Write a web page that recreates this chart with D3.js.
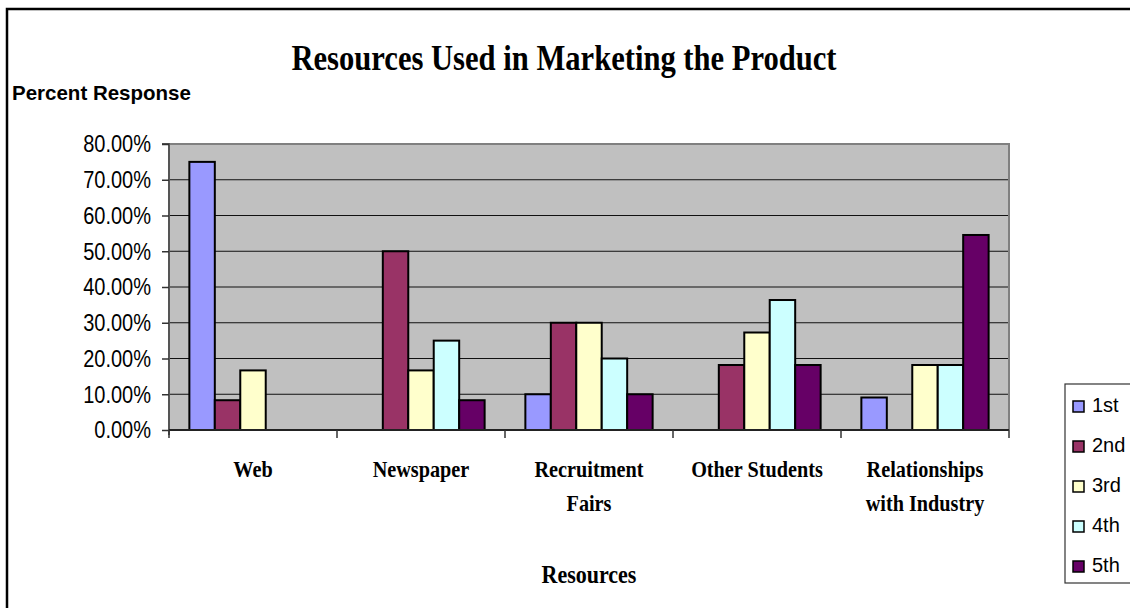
<!DOCTYPE html>
<html>
<head>
<meta charset="utf-8">
<script src="https://cdn.jsdelivr.net/npm/d3@7"></script>
<style>
  html, body { margin: 0; padding: 0; background: #fff; }
  svg { display: block; }
</style>
</head>
<body>
<svg id="chart" width="1130" height="608"></svg>
<script>
// Categories (line breaks mark where the axis label wraps)
const categories = ["Web", "Newspaper", "Recruitment\nFairs", "Other Students", "Relationships\nwith Industry"];

// Ranking series
const seriesNames = ["1st", "2nd", "3rd", "4th", "5th"];
const first  = [0.75,   0,      0.10, 0,      0.0909];
const second = [0.0833, 0.50,   0.30, 0.1818, 0];
const third  = [0.1667, 0.1667, 0.30, 0.2727, 0.1818];
const fourth = [0,      0.25,   0.20, 0.3636, 0.1818];
const fifth  = [0,      0.0833, 0.10, 0.1818, 0.5455];
const seriesValues = [first, second, third, fourth, fifth];

const seriesColors = ["#9999FF", "#993366", "#FFFFCC", "#CCFFFF", "#660066"];
const yTicks = [0, 0.1, 0.2, 0.3, 0.4, 0.5, 0.6, 0.7, 0.8];

const svg = d3.select("#chart");
const plot = { left: 169, right: 1009, top: 144, bottom: 430 };

// Outer chart border
svg.append("rect")
  .attr("x", 7).attr("y", 9)
  .attr("width", 1140).attr("height", 620)
  .attr("fill", "none").attr("stroke", "#000").attr("stroke-width", 2.5);

const x0 = d3.scaleBand().domain(categories.map((c, i) => i)).range([plot.left, plot.right]);
const x1 = d3.scaleBand().domain(seriesNames).range([0, x0.bandwidth()]).paddingInner(0).paddingOuter(0.8);
const y = d3.scaleLinear().domain([0, 0.8]).range([plot.bottom, plot.top]);

// Plot background
svg.append("rect")
  .attr("x", plot.left).attr("y", plot.top)
  .attr("width", plot.right - plot.left).attr("height", plot.bottom - plot.top)
  .attr("fill", "#C0C0C0");

// Gridlines
svg.append("g").selectAll("line")
  .data(yTicks.filter(t => t > 0 && t < 0.8))
  .join("line")
  .attr("x1", plot.left).attr("x2", plot.right)
  .attr("y1", d => y(d)).attr("y2", d => y(d))
  .attr("stroke", "#111").attr("stroke-width", 1);

// Plot frame (top and right)
svg.append("path")
  .attr("d", `M${plot.left},${plot.top}H${plot.right}V${plot.bottom}`)
  .attr("fill", "none").attr("stroke", "#808080").attr("stroke-width", 2);

// Bars
const groups = svg.append("g").selectAll("g")
  .data(categories.map((c, i) => i))
  .join("g")
  .attr("transform", i => `translate(${x0(i)},0)`);

groups.selectAll("rect")
  .data(i => seriesNames.map((s, k) => ({ s, k, v: seriesValues[k][i] })).filter(d => d.v > 0))
  .join("rect")
  .attr("x", d => x1(d.s))
  .attr("width", x1.bandwidth())
  .attr("y", d => y(d.v))
  .attr("height", d => y(0) - y(d.v))
  .attr("fill", d => seriesColors[d.k])
  .attr("stroke", "#000").attr("stroke-width", 2);

// Y axis
const yAxis = d3.axisLeft(y).tickValues(yTicks).tickSize(7).tickFormat("");
const yg = svg.append("g").attr("transform", `translate(${plot.left},0)`).call(yAxis);
yg.select(".domain").attr("stroke", "#555").attr("stroke-width", 2).attr("d", `M-7,${plot.top}H0V${plot.bottom + 5}`);
yg.selectAll(".tick line").attr("stroke", "#333").attr("stroke-width", 1.5);

const yfmt = d3.format(".2%");
svg.append("g").selectAll("text")
  .data(yTicks)
  .join("text")
  .attr("transform", d => `translate(151,${y(d) + 8.3}) scale(0.87,1)`)
  .attr("text-anchor", "end")
  .attr("font-family", "Liberation Sans, Arial, sans-serif")
  .attr("font-size", 23)
  .attr("fill", "#000")
  .text(d => yfmt(d));

// X axis
const xTickPositions = d3.range(categories.length + 1).map(i => plot.left + i * x0.bandwidth());
svg.append("line")
  .attr("x1", plot.left).attr("x2", plot.right)
  .attr("y1", plot.bottom).attr("y2", plot.bottom)
  .attr("stroke", "#222").attr("stroke-width", 2);
svg.append("g").selectAll("line")
  .data(xTickPositions)
  .join("line")
  .attr("x1", d => d).attr("x2", d => d)
  .attr("y1", plot.bottom).attr("y2", plot.bottom + 8)
  .attr("stroke", "#333").attr("stroke-width", 1.5);

// Category labels
const catLabels = svg.append("g").selectAll("text")
  .data(categories.map((c, i) => ({ c, i })))
  .join("text")
  .attr("transform", d => `translate(${x0(d.i) + x0.bandwidth() / 2},477) scale(0.88,1)`)
  .attr("text-anchor", "middle")
  .attr("font-family", "Liberation Serif, Times New Roman, serif")
  .attr("font-weight", "bold")
  .attr("font-size", 23)
  .attr("fill", "#000");
catLabels.selectAll("tspan")
  .data(d => d.c.split("\n"))
  .join("tspan")
  .attr("x", 0)
  .attr("y", (d, j) => j * 34)
  .text(d => d);

// Titles
svg.append("text")
  .attr("transform", "translate(564,70) scale(0.85,1)")
  .attr("text-anchor", "middle")
  .attr("font-family", "Liberation Serif, Times New Roman, serif")
  .attr("font-weight", "bold")
  .attr("font-size", 36)
  .text("Resources Used in Marketing the Product");

svg.append("text")
  .attr("x", 12).attr("y", 100)
  .attr("font-family", "Liberation Sans, Arial, sans-serif")
  .attr("font-weight", "bold")
  .attr("font-size", 20.5)
  .text("Percent Response");

svg.append("text")
  .attr("transform", "translate(589,583) scale(0.88,1)")
  .attr("text-anchor", "middle")
  .attr("font-family", "Liberation Serif, Times New Roman, serif")
  .attr("font-weight", "bold")
  .attr("font-size", 25)
  .text("Resources");

// Legend
const legend = svg.append("g");
legend.append("rect")
  .attr("x", 1065).attr("y", 384)
  .attr("width", 80).attr("height", 199)
  .attr("fill", "#fff").attr("stroke", "#333").attr("stroke-width", 1.2);
const items = legend.selectAll("g.item")
  .data(seriesNames.map((s, k) => ({ s, k })))
  .join("g")
  .attr("class", "item")
  .attr("transform", d => `translate(1073,${401 + d.k * 40})`);
items.append("rect")
  .attr("width", 11).attr("height", 11)
  .attr("fill", d => seriesColors[d.k])
  .attr("stroke", "#000").attr("stroke-width", 1.5);
items.append("text")
  .attr("x", 19).attr("y", 11)
  .attr("font-family", "Liberation Sans, Arial, sans-serif")
  .attr("font-size", 20)
  .text(d => d.s);
</script>
</body>
</html>
